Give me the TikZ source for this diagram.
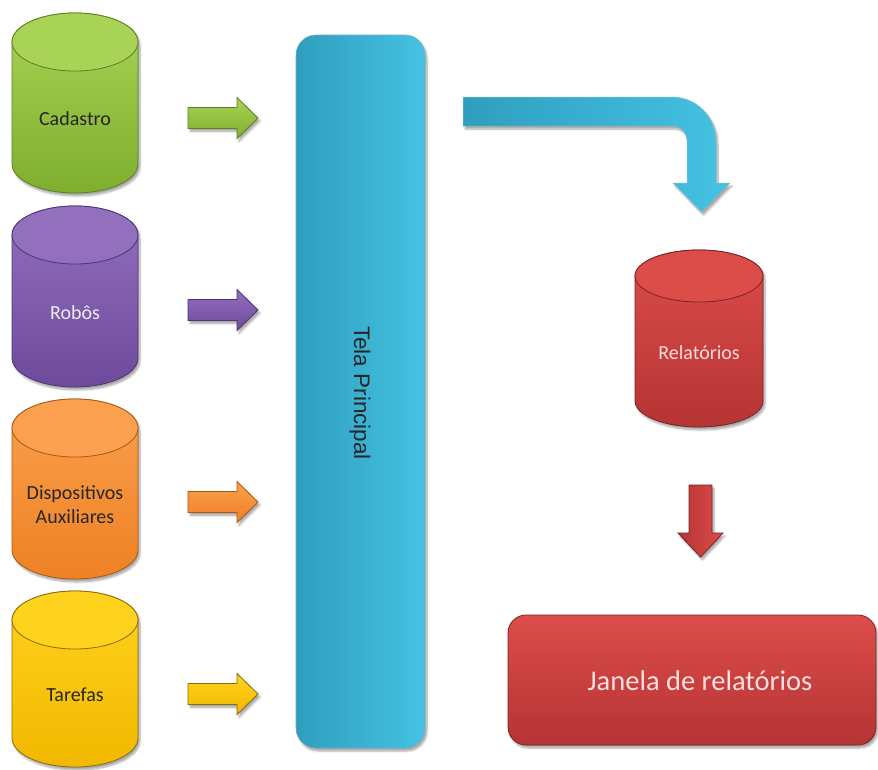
\documentclass[tikz,border=0pt]{standalone}
\usepackage{fontspec}
\setmainfont{Carlito}
\newfontfamily\arialfont{Liberation Sans}
\usetikzlibrary{shadows.blur}

% colour families: light / dark / edge
\definecolor{grnL}{HTML}{A9D356}\definecolor{grnD}{HTML}{7FAE2E}\definecolor{grnE}{HTML}{5E7F22}
\definecolor{purL}{HTML}{9270BE}\definecolor{purD}{HTML}{6E4A9C}\definecolor{purE}{HTML}{4F3472}
\definecolor{orgL}{HTML}{FBA04E}\definecolor{orgD}{HTML}{EE8124}\definecolor{orgE}{HTML}{A85A14}
\definecolor{ylwL}{HTML}{FFD21E}\definecolor{ylwD}{HTML}{F2B800}\definecolor{ylwE}{HTML}{8A6C10}
\definecolor{redL}{HTML}{DC4D4A}\definecolor{redD}{HTML}{B53434}\definecolor{redE}{HTML}{7A2222}
\definecolor{aquL}{HTML}{45C2E2}\definecolor{aquD}{HTML}{2F9EBE}\definecolor{aquE}{HTML}{1F7892}

\tikzset{
  softshadow/.style={blur shadow={shadow xshift=2pt,shadow yshift=-3pt,shadow blur steps=6,shadow opacity=35}},
  cyltext/.style={font=\fontsize{20}{24}\selectfont,align=center},
}

% database cylinder: name, cx, top, bottom, family, text colour, label, rx, ry
\newcommand\dbcyl[9]{%
  \path[softshadow,top color=#5L,bottom color=#5D,draw=#5E,line width=0.8pt]
    (#2-#8,#3+#9) -- (#2-#8,#4-#9)
    arc[start angle=180,end angle=360,x radius=#8pt,y radius=#9pt]
    -- (#2+#8,#3+#9)
    arc[start angle=0,end angle=180,x radius=#8pt,y radius=#9pt] -- cycle;
  \path[fill=#5L,draw=#5E,line width=0.8pt] (#2,#3+#9) ellipse[x radius=#8pt,y radius=#9pt];
  \node[cyltext,text=#6] (#1) at (#2,{(#3+#4)/2+0.55*#9}) {#7};
}

% small block arrow: name, left x, centre y, family
\newcommand\blockarrow[4]{%
  \path[softshadow,top color=#4L,bottom color=#4D,draw=#4E,line width=0.8pt]
    (#2,#3-10.5) -- (#2+49,#3-10.5) -- (#2+49,#3-20.5) -- (#2+70,#3)
    -- (#2+49,#3+20.5) -- (#2+49,#3+10.5) -- (#2,#3+10.5) -- cycle;
  \coordinate (#1) at (#2+35,#3);
}

\begin{document}
\begin{tikzpicture}[x=1pt,y=-1pt]
  \useasboundingbox (0,0) rectangle (878,769);

  % data sources
  \dbcyl{cad}{75}{13}{193}{grn}{black!85}{Cadastro}{63}{29}
  \dbcyl{rob}{75}{206}{387}{pur}{white!85!purL}{Robôs}{63}{29}
  \dbcyl{dis}{75}{399}{579}{org}{black!85}{Dispositivos\\Auxiliares}{63}{29}
  \dbcyl{tar}{75}{591}{767}{ylw}{black!85}{Tarefas}{63}{29}

  % arrows into the main screen
  \blockarrow{acad}{188}{118}{grn}
  \blockarrow{arob}{188}{310}{pur}
  \blockarrow{adis}{188}{502}{org}
  \blockarrow{atar}{188}{694}{ylw}

  % main screen
  \path[softshadow,left color=aquD,right color=aquL,draw=aquE!60,line width=0.6pt,rounded corners=20pt]
    (296,35) rectangle (425,748);
  \node[rotate=-90,font=\arialfont\fontsize{22.5}{26}\selectfont,text=black!85] (tela) at (360,393) {Tela Principal};

  % bent arrow to the reports store
  \path[softshadow,left color=aquD,right color=aquL,draw=aquE!50,line width=0.5pt]
    (463,97) -- (672,97)
    arc[start angle=90,end angle=0,radius=44pt]
    -- (716,183) -- (730,183) -- (701.5,212) -- (673,183) -- (687,183) -- (687,141)
    arc[start angle=0,end angle=90,radius=15pt]
    -- (463,126) -- cycle;

  % reports store
  \dbcyl{rel}{699}{250}{427}{red}{white!80!redL}{Relatórios}{64}{26}

  % arrow down to the report window
  \path[softshadow,left color=redD,right color=redL,draw=redE,line width=0.8pt]
    (689,485) -- (712,485) -- (712,533) -- (723,533) -- (700.5,557)
    -- (678,533) -- (689,533) -- cycle;

  % report window
  \path[softshadow,top color=redL,bottom color=redD,draw=redE,line width=0.8pt,rounded corners=18pt]
    (508,615) rectangle (876,745);
  \node[font=\fontsize{28.5}{32}\selectfont,text=white!82!redL] (jan) at (700,681) {Janela de relatórios};
\end{tikzpicture}
\end{document}
